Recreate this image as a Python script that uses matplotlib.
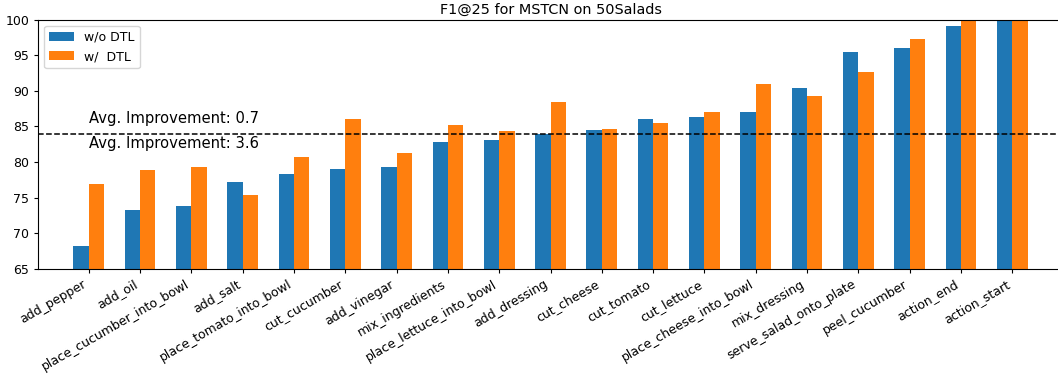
import matplotlib
matplotlib.use("Agg")
import matplotlib.pyplot as plt
import numpy as np

categories = ["add_pepper", "add_oil", "place_cucumber_into_bowl", "add_salt",
              "place_tomato_into_bowl", "cut_cucumber", "add_vinegar", "mix_ingredients",
              "place_lettuce_into_bowl", "add_dressing", "cut_cheese", "cut_tomato",
              "cut_lettuce", "place_cheese_into_bowl", "mix_dressing",
              "serve_salad_onto_plate", "peel_cucumber", "action_end", "action_start"]
without_dtl = [68.2, 73.3, 73.8, 77.2, 78.3, 79.0, 79.3, 82.8, 83.1, 83.9,
               84.5, 86.0, 86.3, 87.0, 90.4, 95.4, 96.0, 99.1, 100.0]
with_dtl = [76.9, 78.9, 79.3, 75.4, 80.7, 86.0, 81.3, 85.2, 84.3, 88.4,
            84.6, 85.5, 87.0, 90.9, 89.3, 92.6, 97.2, 100.0, 100.0]
reference_line = 83.9
labels = ["w/o DTL", "w/  DTL"]
annotations = ["Avg. Improvement: 0.7", "Avg. Improvement: 3.6"]
title = "F1@25 for MSTCN on 50Salads"

W, H = 1058, 378
fig = plt.figure(figsize=(W / 100, H / 100), dpi=100)
ax = fig.add_axes([38 / W, 1 - 269 / H, (1063 - 38) / W, (269 - 19.5) / H])

x = np.arange(len(categories))
w = 0.3
ax.bar(x - w / 2, without_dtl, w, color="#1f77b4", label=labels[0])
ax.bar(x + w / 2, with_dtl, w, color="#ff7f0e", label=labels[1])
ax.axhline(reference_line, color="black", linestyle="--", linewidth=1.1)
ax.text(0, reference_line + 1.2, annotations[0], fontsize=10.6, ha="left", va="bottom")
ax.text(0, reference_line - 0.25, annotations[1], fontsize=10.6, ha="left", va="top")

ax.set_ylim(65, 100)
ax.set_xlim(-0.99, 18.99)
ax.set_xticks(x)
ax.set_xticklabels(categories, rotation=30, ha="right", fontsize=9)
ax.tick_params(axis="y", labelsize=9)
ax.tick_params(axis="both", length=3.2, pad=3)
ax.set_title(title, fontsize=10.4, pad=4)
ax.legend(loc="upper left", fontsize=9)

fig.savefig("out.png", dpi=100)
